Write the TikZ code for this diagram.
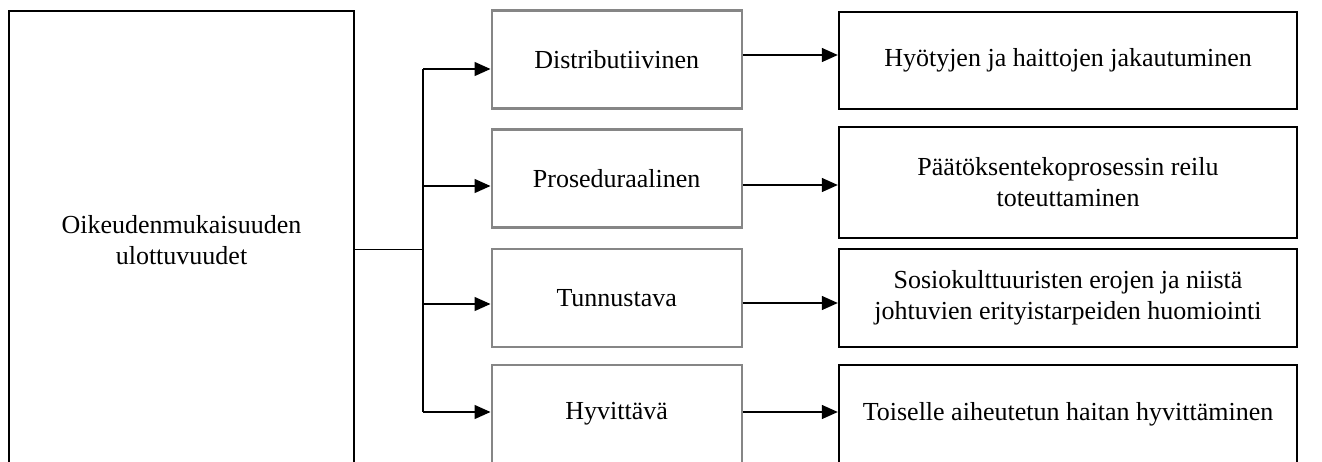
\documentclass[tikz,border=0pt]{standalone}
\usepackage{fontspec}
\setmainfont{Liberation Serif}
\usetikzlibrary{arrows.meta}
\begin{document}
\begin{tikzpicture}[x=0.5pt,y=-0.5pt,
  every node/.style={font=\fontsize{13}{15.5}\selectfont, align=center, inner sep=0pt},
  mainbox/.style={draw=black, line width=1.2pt, rectangle},
  midbox/.style={draw=gray!95, line width=1.2pt, rectangle, minimum width=125pt, minimum height=49pt},
  resbox/.style={draw=black, line width=1.2pt, rectangle, minimum width=229pt},
  conn/.style={draw=black, line width=0.7pt},
  arr/.style={conn, -{Triangle[length=8pt,width=7pt]}}]
\useasboundingbox (0,0) rectangle (1322,461);
\clip (0,0) rectangle (1322,461);
% left box
\node[mainbox, minimum width=172.5pt, minimum height=229pt] (main) at (181.5,240) {Oikeudenmukaisuuden\\ulottuvuudet};
% middle boxes
\node[midbox] (d1) at (616.7,59.4) {Distributiivinen};
\node[midbox] (d2) at (616.7,178.5) {Proseduraalinen};
\node[midbox] (d3) at (616.7,298) {Tunnustava};
\node[midbox] (d4) at (616.7,414) {Hyvittävä};
% right boxes
\node[resbox, minimum height=48.5pt] (r1) at (1068,60.5) {Hyötyjen ja haittojen jakautuminen};
\node[resbox, minimum height=55.5pt] (r2) at (1068,182.5) {Päätöksentekoprosessin reilu\\toteuttaminen};
\node[resbox, minimum height=49pt] (r3) at (1068,298) {Sosiokulttuuristen erojen ja niistä\\johtuvien erityistarpeiden huomiointi};
\node[resbox, minimum height=49pt] (r4) at (1068,414) {Toiselle aiheutetun haitan hyvittäminen};
% trunk
\coordinate (j0) at (423,249.5);
\coordinate (t1) at (423,69);
\coordinate (t2) at (423,186);
\coordinate (t3) at (423,304);
\coordinate (t4) at (423,412);
\draw[conn] (main.east |- j0) -- (j0);
\draw[conn] (t1) -- (t4);
\draw[arr] (t1) -- (t1 -| d1.west);
\draw[arr] (t2) -- (t2 -| d2.west);
\draw[arr] (t3) -- (t3 -| d3.west);
\draw[arr] (t4) -- (t4 -| d4.west);
% middle to right
\coordinate (m1) at (742,55);
\coordinate (m2) at (742,185);
\coordinate (m3) at (742,303);
\coordinate (m4) at (742,412);
\draw[arr] (d1.east |- m1) -- (r1.west |- m1);
\draw[arr] (d2.east |- m2) -- (r2.west |- m2);
\draw[arr] (d3.east |- m3) -- (r3.west |- m3);
\draw[arr] (d4.east |- m4) -- (r4.west |- m4);
\end{tikzpicture}
\end{document}
